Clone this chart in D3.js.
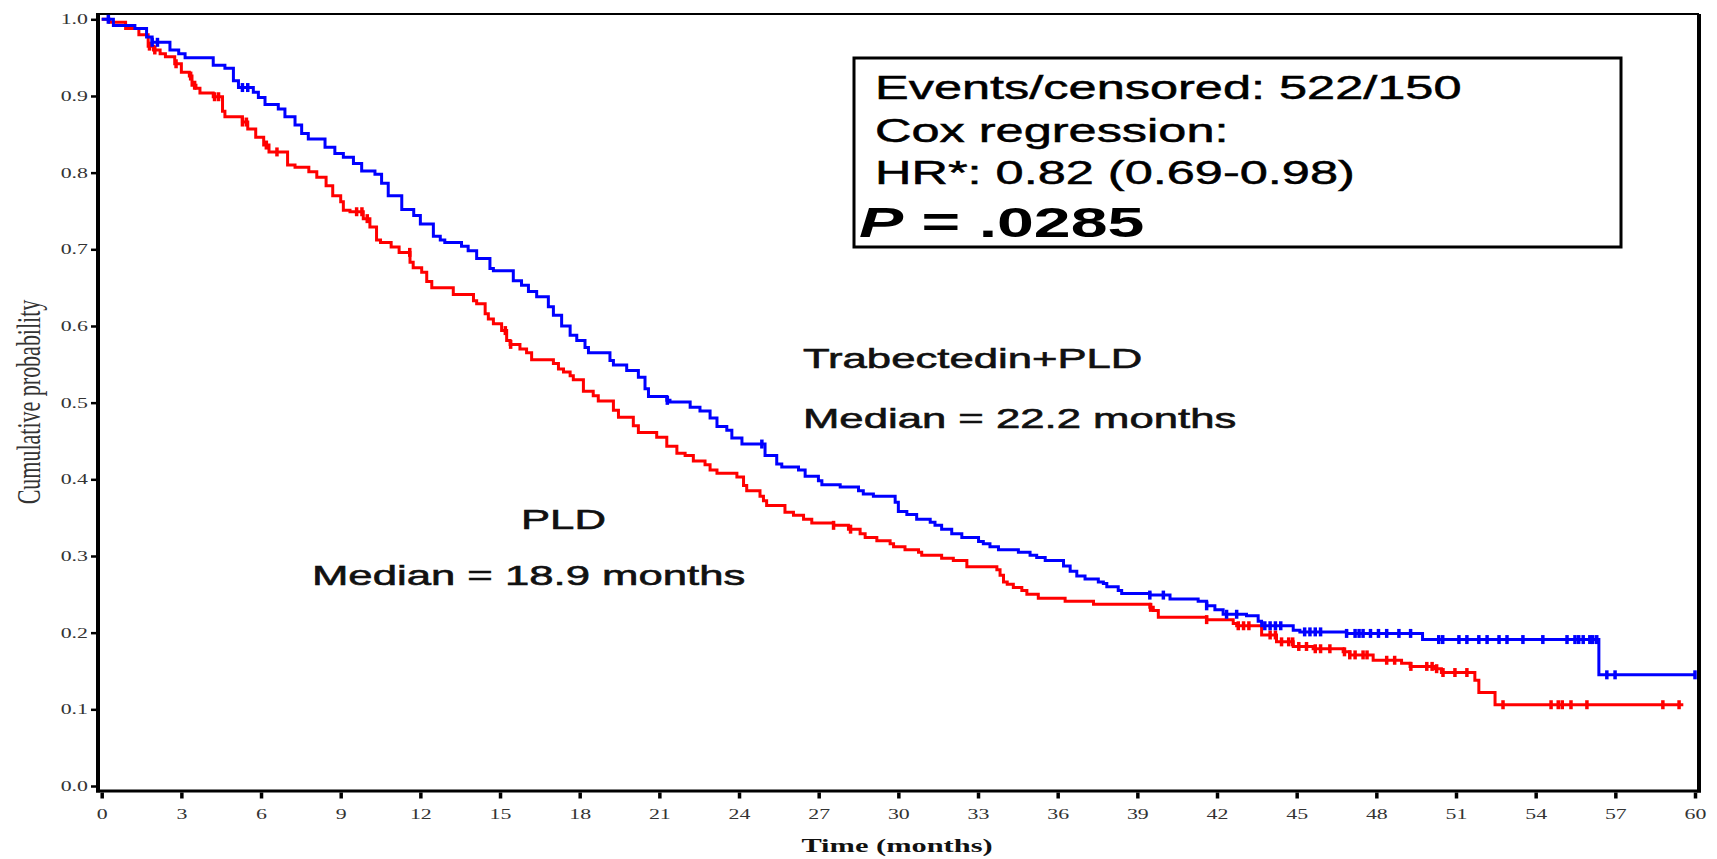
<!DOCTYPE html>
<html>
<head>
<meta charset="utf-8">
<script src="https://cdn.jsdelivr.net/npm/d3@7.9.0/dist/d3.min.js"></script>
<style>
  body { margin: 0; background: #fff; }
  svg { display: block; }
</style>
</head>
<body>
<div id="chart"></div>
<script>
// ---------------- data ----------------
// [time in months, survival level from that time on]
const blueSteps = [[0,1.000],[0.44,0.992],[1.25,0.988],[1.69,0.977],[1.90,0.970],[2.57,0.960],[2.90,0.955],[3.14,0.950],[4.20,0.940],[4.64,0.936],[4.96,0.920],[5.15,0.911],[5.71,0.905],[5.90,0.898],[6.15,0.889],[6.65,0.883],[6.90,0.873],[7.28,0.862],[7.53,0.851],[7.78,0.844],[8.41,0.833],[8.78,0.825],[9.10,0.820],[9.48,0.812],[9.79,0.802],[10.29,0.798],[10.54,0.786],[10.79,0.770],[11.30,0.752],[11.75,0.744],[12.00,0.733],[12.49,0.717],[12.75,0.712],[12.92,0.709],[13.55,0.704],[13.80,0.698],[14.12,0.688],[14.62,0.675],[14.75,0.672],[15.50,0.659],[15.81,0.653],[16.07,0.645],[16.38,0.638],[16.82,0.625],[17.01,0.614],[17.32,0.600],[17.64,0.588],[17.89,0.581],[18.20,0.572],[18.33,0.565],[19.14,0.555],[19.27,0.549],[19.77,0.542],[20.21,0.533],[20.46,0.518],[20.59,0.508],[21.28,0.503],[21.40,0.501],[22.16,0.494],[22.53,0.489],[22.91,0.480],[23.17,0.469],[23.54,0.464],[23.73,0.454],[24.11,0.446],[24.98,0.431],[25.42,0.420],[25.61,0.416],[26.24,0.412],[26.49,0.404],[26.99,0.398],[27.12,0.393],[27.81,0.390],[28.50,0.385],[28.68,0.381],[29.06,0.378],[29.88,0.370],[30.00,0.358],[30.32,0.354],[30.69,0.348],[31.20,0.344],[31.38,0.340],[31.63,0.335],[32.01,0.329],[32.39,0.324],[33.02,0.319],[33.20,0.316],[33.45,0.312],[33.77,0.308],[34.52,0.305],[34.96,0.301],[35.21,0.298],[35.53,0.294],[36.22,0.287],[36.47,0.280],[36.72,0.274],[37.03,0.270],[37.53,0.266],[37.72,0.264],[37.85,0.260],[38.28,0.255],[38.41,0.251],[39.47,0.249],[40.23,0.244],[41.29,0.241],[41.61,0.235],[41.92,0.230],[42.23,0.224],[43.11,0.222],[43.55,0.215],[43.68,0.209],[44.87,0.203],[45.12,0.201],[46.88,0.199],[49.74,0.191],[56.38,0.145]];
const blueEnd = 60.0;
const blueCensor = [0.25,1.9,2.1,5.3,5.5,21.3,24.86,39.47,39.98,41.61,42.36,42.74,43.8,44.0,44.2,44.4,45.3,45.5,45.7,45.9,46.88,47.2,47.35,47.5,47.78,48.08,48.39,48.85,49.29,50.35,50.5,51.11,51.41,51.86,52.17,52.62,52.92,53.52,54.27,55.18,55.48,55.62,55.79,56.04,56.15,56.3,56.68,56.99,60.0];

const redSteps = [[0,1.000],[0.30,0.996],[0.90,0.988],[1.40,0.980],[1.75,0.965],[1.95,0.960],[2.20,0.955],[2.40,0.951],[2.75,0.942],[3.00,0.931],[3.30,0.926],[3.40,0.914],[3.55,0.910],[3.70,0.904],[4.20,0.899],[4.55,0.880],[4.64,0.873],[5.30,0.866],[5.50,0.857],[5.80,0.846],[6.10,0.836],[6.30,0.827],[7.00,0.810],[7.28,0.807],[7.80,0.801],[8.10,0.794],[8.45,0.783],[8.70,0.770],[9.00,0.762],[9.10,0.751],[9.35,0.749],[9.85,0.740],[10.10,0.729],[10.35,0.712],[10.50,0.709],[10.90,0.703],[11.20,0.696],[11.61,0.683],[11.73,0.676],[12.05,0.670],[12.24,0.658],[12.43,0.650],[13.24,0.641],[14.00,0.633],[14.12,0.629],[14.44,0.616],[14.56,0.609],[14.75,0.603],[15.06,0.594],[15.25,0.581],[15.38,0.576],[15.75,0.570],[16.00,0.565],[16.19,0.556],[17.01,0.551],[17.20,0.544],[17.39,0.540],[17.64,0.535],[17.76,0.530],[18.14,0.515],[18.51,0.509],[18.70,0.502],[19.27,0.490],[19.46,0.481],[20.02,0.470],[20.21,0.461],[20.90,0.455],[21.28,0.443],[21.66,0.434],[21.97,0.431],[22.28,0.424],[22.72,0.419],[22.91,0.412],[23.17,0.408],[23.92,0.403],[24.17,0.392],[24.29,0.385],[24.79,0.378],[24.92,0.372],[25.04,0.366],[25.73,0.357],[26.05,0.353],[26.43,0.348],[26.74,0.343],[27.56,0.340],[28.12,0.335],[28.56,0.329],[28.75,0.324],[29.19,0.320],[29.69,0.316],[29.82,0.312],[30.25,0.308],[30.76,0.305],[30.88,0.301],[31.63,0.297],[32.07,0.294],[32.58,0.286],[33.71,0.282],[33.83,0.275],[33.96,0.266],[34.10,0.263],[34.33,0.259],[34.65,0.255],[34.84,0.250],[35.27,0.245],[36.28,0.241],[37.35,0.237],[39.47,0.233],[39.60,0.229],[39.79,0.220],[41.61,0.217],[42.61,0.212],[42.74,0.209],[43.68,0.197],[44.24,0.188],[44.87,0.182],[45.62,0.179],[46.75,0.175],[47.00,0.171],[47.88,0.164],[48.95,0.160],[49.27,0.156],[50.20,0.153],[50.45,0.148],[51.71,0.138],[51.86,0.122],[52.47,0.106]];
const redEnd = 59.56;
const redCensor = [1.8,2.0,2.8,3.35,3.5,4.25,4.4,5.3,5.45,6.2,6.6,9.6,9.8,10.0,11.6,15.2,15.4,27.56,28.2,39.5,41.61,42.8,43.0,43.2,44.0,44.2,44.43,44.7,44.85,45.08,45.37,45.7,45.9,46.25,46.8,47.0,47.2,47.5,47.65,48.39,48.69,49.3,49.9,50.1,50.27,50.51,50.96,51.41,52.77,54.58,54.85,55.0,55.33,55.93,58.79,59.4];

const xTickValues = [0,3,6,9,12,15,18,21,24,27,30,33,36,39,42,45,48,51,54,57,60];
const yTickValues = [0,0.1,0.2,0.3,0.4,0.5,0.6,0.7,0.8,0.9,1.0];

const statLines = ["Events/censored: 522/150", "Cox regression:", "HR*: 0.82 (0.69-0.98)"];
const pValue = ".0285";
const armLabels = [
  {name: "Trabectedin+PLD", median: "Median = 22.2 months"},
  {name: "PLD", median: "Median = 18.9 months"}
];

// ---------------- layout ----------------
const W = 1717, H = 859;
const stretch = 1.56;   // the source picture is widened, text included
const serif = "'Liberation Serif','Times New Roman',serif";
const sans = "'Liberation Sans',Arial,sans-serif";

const svg = d3.select("#chart").append("svg").attr("width", W).attr("height", H);
svg.append("rect").attr("width", W).attr("height", H).attr("fill", "#fff");

const x = d3.scaleLinear().domain([0, 60]).range([101.7, 1695]);
const y = d3.scaleLinear().domain([0, 1]).range([786, 19.3]);

// frame
const frame = {left: 98, right: 1699, top: 14, bottom: 791};
svg.append("line").attr("x1", frame.left).attr("x2", frame.right).attr("y1", frame.top).attr("y2", frame.top)
  .attr("stroke", "#000").attr("stroke-width", 2);
svg.append("line").attr("x1", frame.right).attr("x2", frame.right).attr("y1", frame.top).attr("y2", frame.bottom + 1.5)
  .attr("stroke", "#000").attr("stroke-width", 4);
svg.append("line").attr("x1", frame.left).attr("x2", frame.left).attr("y1", frame.top - 1).attr("y2", frame.bottom + 1.5)
  .attr("stroke", "#000").attr("stroke-width", 4);
svg.append("line").attr("x1", frame.left - 2).attr("x2", frame.right + 2).attr("y1", frame.bottom).attr("y2", frame.bottom)
  .attr("stroke", "#000").attr("stroke-width", 3);

// Y axis
const yAxis = svg.append("g").attr("transform", `translate(${frame.left - 2},0)`)
  .call(d3.axisLeft(y).tickValues(yTickValues).tickSize(5).tickFormat(d3.format(".1f")));
yAxis.select(".domain").remove();
yAxis.selectAll(".tick line").attr("stroke", "#000").attr("stroke-width", 2.5);
yAxis.selectAll(".tick text")
  .attr("x", null).attr("dy", "0.32em")
  .attr("transform", `translate(-8,0) scale(${stretch},1)`)
  .attr("font-family", serif).attr("font-size", 14).attr("fill", "#333");

// X axis
const xAxis = svg.append("g").attr("transform", `translate(0,${frame.bottom + 1.5})`)
  .call(d3.axisBottom(x).tickValues(xTickValues).tickSize(6).tickFormat(d3.format("d")));
xAxis.select(".domain").remove();
xAxis.selectAll(".tick line").attr("stroke", "#000").attr("stroke-width", 3.5);
xAxis.selectAll(".tick text")
  .attr("y", null).attr("dy", null)
  .attr("transform", `translate(0,26) scale(${stretch},1)`)
  .attr("font-family", serif).attr("font-size", 14).attr("fill", "#333");

// axis titles
svg.append("text")
  .attr("transform", `translate(897,852) scale(${stretch},1)`)
  .attr("text-anchor", "middle").attr("font-family", serif).attr("font-size", 19.5).attr("font-weight", "bold")
  .attr("fill", "#111").text("Time (months)");
svg.append("text")
  .attr("transform", `translate(40,402) scale(${stretch},1) rotate(-90)`)
  .attr("text-anchor", "middle").attr("font-family", serif).attr("font-size", 22)
  .attr("fill", "#333").text("Cumulative probability");

// ---------------- KM curves ----------------
const line = d3.line().x(d => x(d[0])).y(d => y(d[1])).curve(d3.curveStepAfter);
const levelAt = (steps, t) => { let s = steps[0][1]; for (const [tt, ss] of steps) if (tt <= t) s = ss; return s; };

function drawCurve(steps, end, censor, color) {
  const pts = steps.concat([[end, steps[steps.length - 1][1]]]);
  svg.append("path").attr("d", line(pts)).attr("fill", "none")
    .attr("stroke", color).attr("stroke-width", 3).attr("stroke-linejoin", "miter");
  svg.append("g").selectAll("line").data(censor).enter().append("line")
    .attr("x1", d => x(d)).attr("x2", d => x(d))
    .attr("y1", d => y(levelAt(steps, d)) - 4.5).attr("y2", d => y(levelAt(steps, d)) + 4.5)
    .attr("stroke", color).attr("stroke-width", 3.5);
}
drawCurve(redSteps, redEnd, redCensor, "#ff0000");
drawCurve(blueSteps, blueEnd, blueCensor, "#0000ff");

// ---------------- arm labels ----------------
const armPos = [{x: 803, y1: 368, y2: 428}, {x: 521, y1: 529, y2: 585, x2: 312}];
armLabels.forEach((a, i) => {
  const p = armPos[i];
  svg.append("text").attr("transform", `translate(${p.x},${p.y1}) scale(${stretch},1)`)
    .attr("font-family", sans).attr("font-size", 28).attr("fill", "#111")
    .attr("stroke", "#111").attr("stroke-width", 0.6).text(a.name);
  svg.append("text").attr("transform", `translate(${p.x2 || p.x},${p.y2}) scale(${stretch},1)`)
    .attr("font-family", sans).attr("font-size", 28).attr("fill", "#111")
    .attr("stroke", "#111").attr("stroke-width", 0.6).text(a.median);
});

// ---------------- stats box ----------------
const box = svg.append("g");
box.append("rect").attr("x", 854).attr("y", 58).attr("width", 767).attr("height", 189)
  .attr("fill", "#fff").attr("stroke", "#000").attr("stroke-width", 3);
statLines.forEach((s, i) => {
  box.append("text").attr("transform", `translate(875,${99 + i * 42.5}) scale(1.53,1)`)
    .attr("font-family", sans).attr("font-size", 33).attr("fill", "#000")
    .attr("stroke", "#000").attr("stroke-width", 0.5).text(s);
});
const pt = box.append("text").attr("transform", "translate(859,237) scale(1.54,1)")
  .attr("font-family", sans).attr("font-size", 43).attr("font-weight", "bold").attr("fill", "#000");
pt.append("tspan").attr("font-style", "italic").text("P");
pt.append("tspan").text(" = " + pValue);
</script>
</body>
</html>
